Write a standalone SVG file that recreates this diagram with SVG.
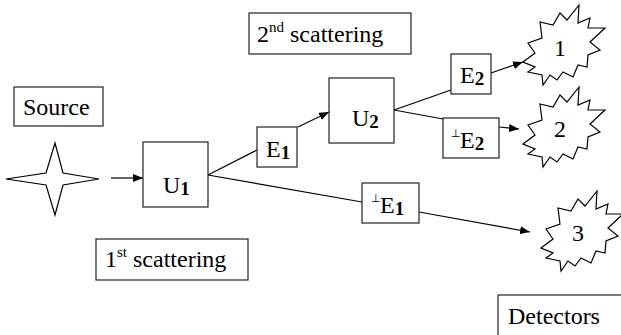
<svg xmlns="http://www.w3.org/2000/svg" width="621" height="335" viewBox="0 0 621 335">
<defs>
<marker id="ah" viewBox="0 0 10 8" refX="10" refY="4" markerWidth="10" markerHeight="8" markerUnits="userSpaceOnUse" orient="auto">
<path d="M0,0 L10,4 L0,8 Z" fill="#000"/>
</marker>
<polygon id="bst" fill="#fff" stroke="#000" stroke-width="1.2" points="-37,15 -25,6 -32,-4 -18,-9 -20,-25 -7,-22 0,-34 7,-27 19,-42 18,-24 30,-29 28,-19 45,-19 30,-5 40,3 28,8 27,20 18,18 13,30 3,25 -3,33 -10,28 -17,38 -18,28 -32,25 -25,20"/>
</defs>
<g id="connectors" stroke="#000" stroke-width="1.2" fill="none">
<line x1="111" y1="178" x2="143" y2="178" marker-end="url(#ah)"/>
<line x1="208" y1="175" x2="257" y2="150"/>
<line x1="298" y1="127" x2="329" y2="112" marker-end="url(#ah)"/>
<line x1="208" y1="175" x2="362" y2="202"/>
<line x1="419" y1="212" x2="530" y2="232" marker-end="url(#ah)"/>
<line x1="394" y1="110" x2="451" y2="90"/>
<line x1="394" y1="110" x2="443" y2="119"/>
<line x1="491" y1="73" x2="523" y2="62" marker-end="url(#ah)"/>
<line x1="499" y1="127" x2="519" y2="129" marker-end="url(#ah)"/>
</g>
<g id="source-label"><rect x="14" y="87" width="89" height="39" fill="#fff" stroke="#222" stroke-width="1.2"/><text font-family="Liberation Serif" font-size="24" x="23" y="115">Source</text></g>
<g id="source"><polygon fill="#fff" stroke="#000" stroke-width="1.2" points="55,143 63,173 99,179 63,185 55,215 46,185 6,179 46,173"/></g>
<g id="U1"><rect x="143" y="142" width="65" height="65" fill="#fff" stroke="#222" stroke-width="1.2"/><text font-family="Liberation Serif" font-size="24" x="163" y="193">U<tspan font-weight="bold" font-size="19" dy="2">1</tspan></text></g>
<g id="E1"><rect x="257" y="127" width="40" height="40" fill="#fff" stroke="#222" stroke-width="1.2"/><text font-family="Liberation Serif" font-size="24" x="266" y="157">E<tspan font-weight="bold" font-size="19" dy="2">1</tspan></text></g>
<g id="U2"><rect x="329" y="78" width="65" height="65" fill="#fff" stroke="#222" stroke-width="1.2"/><text font-family="Liberation Serif" font-size="24" x="352" y="126">U<tspan font-weight="bold" font-size="19" dy="2">2</tspan></text></g>
<g id="E2"><rect x="451" y="54" width="40" height="40" fill="#fff" stroke="#222" stroke-width="1.2"/><text font-family="Liberation Serif" font-size="24" x="460" y="83">E<tspan font-weight="bold" font-size="19" dy="2">2</tspan></text></g>
<g id="perpE2"><rect x="443" y="118" width="56" height="40" fill="#fff" stroke="#222" stroke-width="1.2"/><text font-family="Liberation Serif" font-size="24" x="451" y="137"><tspan font-family="DejaVu Sans" font-size="11">⊥</tspan><tspan x="460" y="148">E</tspan><tspan font-weight="bold" font-size="19" dy="2">2</tspan></text></g>
<g id="perpE1"><rect x="362" y="183" width="57" height="40" fill="#fff" stroke="#222" stroke-width="1.2"/><text font-family="Liberation Serif" font-size="24" x="371" y="202"><tspan font-family="DejaVu Sans" font-size="11">⊥</tspan><tspan x="380" y="213">E</tspan><tspan font-weight="bold" font-size="19" dy="2">1</tspan></text></g>
<g id="scat2"><rect x="249" y="13" width="162" height="41" fill="#fff" stroke="#222" stroke-width="1.2"/><text font-family="Liberation Serif" font-size="24" x="257" y="42">2<tspan font-size="15" dy="-10">nd</tspan><tspan dy="10"> scattering</tspan></text></g>
<g id="scat1"><rect x="96" y="239" width="152" height="41" fill="#fff" stroke="#222" stroke-width="1.2"/><text font-family="Liberation Serif" font-size="24" x="105" y="267">1<tspan font-size="15" dy="-10">st</tspan><tspan dy="10"> scattering</tspan></text></g>
<g id="det1"><use href="#bst" x="560" y="47"/><text font-family="Liberation Serif" font-size="24" x="560" y="56" text-anchor="middle">1</text></g>
<g id="det2"><use href="#bst" x="560" y="129"/><text font-family="Liberation Serif" font-size="24" x="560" y="137" text-anchor="middle">2</text></g>
<g id="det3"><use href="#bst" x="578" y="233"/><text font-family="Liberation Serif" font-size="24" x="578" y="241" text-anchor="middle">3</text></g>
<g id="detectors"><rect x="498" y="295" width="140" height="50" fill="#fff" stroke="#222" stroke-width="1.2"/><text font-family="Liberation Serif" font-size="24" x="508" y="324">Detectors</text></g>
</svg>
